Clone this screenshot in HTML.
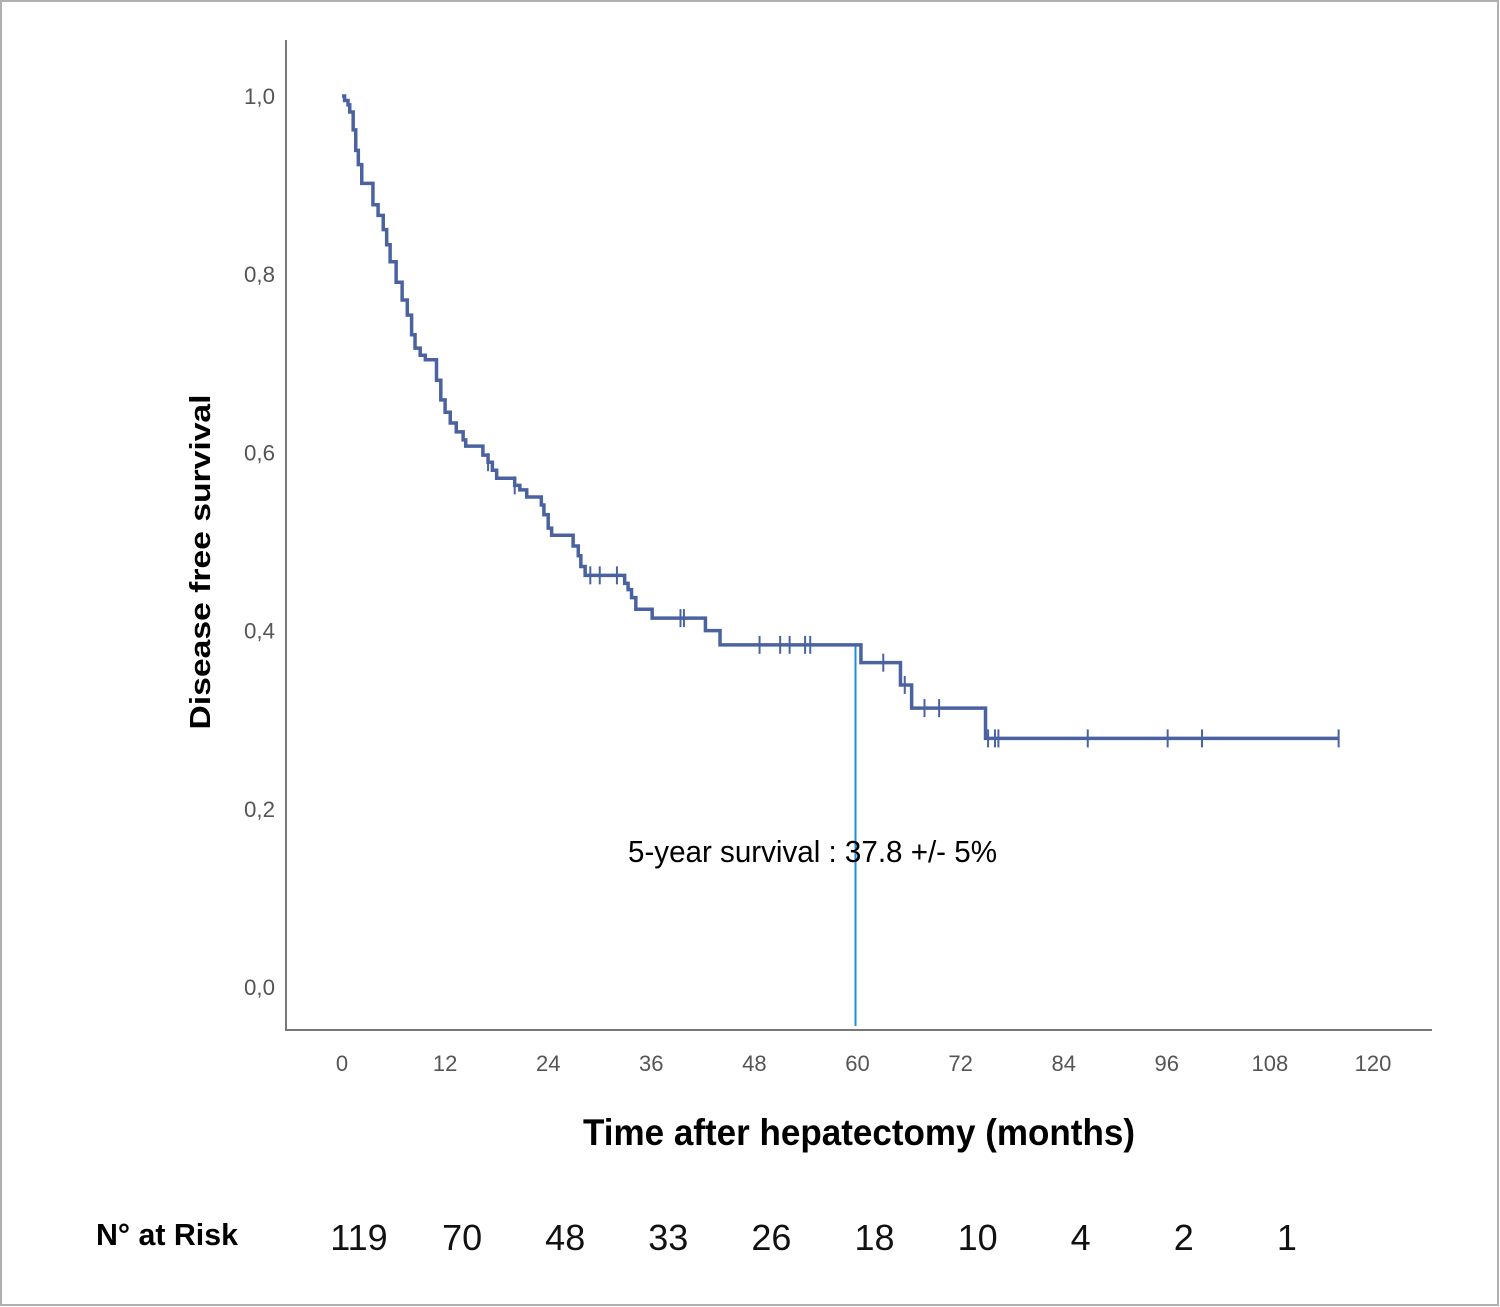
<!DOCTYPE html>
<html><head><meta charset="utf-8"><style>
html,body{margin:0;padding:0;background:#fff}
svg{display:block}
text{font-family:"Liberation Sans",sans-serif}
</style></head><body>
<svg id="chart" width="1500" height="1307" viewBox="0 0 1500 1307" xmlns="http://www.w3.org/2000/svg">
<rect x="1" y="1" width="1497" height="1304" fill="#fff" stroke="#b0b0b0" stroke-width="2"/>
<line x1="286" y1="40" x2="286" y2="1031" stroke="#777" stroke-width="2"/>
<line x1="285" y1="1030" x2="1432" y2="1030" stroke="#777" stroke-width="2"/>
<g id="yticks"></g><g id="xticks"></g>
<text transform="translate(210,562) rotate(-90)" text-anchor="middle" font-size="29" font-weight="bold" textLength="335" lengthAdjust="spacingAndGlyphs">Disease free survival</text>
<text x="583" y="1145" font-size="37" font-weight="bold" textLength="552" lengthAdjust="spacingAndGlyphs">Time after hepatectomy (months)</text>
<line id="vline" stroke="#1e8fe0" stroke-width="2"/>
<path id="curve" fill="none" stroke="#4a63a0" stroke-width="3.5" stroke-linejoin="miter"/>
<g id="censors"></g>
<text x="628" y="862" font-size="31" textLength="369" lengthAdjust="spacingAndGlyphs">5-year survival : 37.8 +/- 5%</text>
<text x="96" y="1245" font-size="31" font-weight="bold" textLength="142" lengthAdjust="spacingAndGlyphs">N° at Risk</text>
<g id="risk"></g>
</svg>
<script>
const yTicks=[0,0.2,0.4,0.6,0.8,1.0];
const yTickLabels=["0,0","0,2","0,4","0,6","0,8","1,0"];
const xTicks=[0,12,24,36,48,60,72,84,96,108,120];
const stepTimes=[0,0.3,0.7,0.9,1.3,1.6,1.9,2.3,3.6,4.2,4.8,5.2,5.6,6.3,7.0,7.6,8.1,8.5,9.1,9.7,11.0,11.5,12.0,12.6,13.3,14.1,14.4,16.4,17.0,17.5,18.0,20.1,20.7,21.5,23.2,23.5,24.0,24.4,26.9,27.5,27.8,28.3,32.9,33.3,33.7,34.2,36.1,42.3,44.0,60.4,65.0,66.3,74.9];
const stepSurv=[1.0,0.995,0.990,0.982,0.962,0.939,0.923,0.902,0.878,0.866,0.850,0.833,0.814,0.791,0.771,0.754,0.732,0.717,0.709,0.704,0.681,0.659,0.645,0.633,0.623,0.614,0.607,0.597,0.589,0.580,0.571,0.563,0.558,0.550,0.541,0.530,0.515,0.507,0.495,0.484,0.472,0.462,0.453,0.446,0.437,0.424,0.414,0.400,0.384,0.364,0.339,0.313,0.279];
const endTime=116.0;
const censorTimes=[17.0,20.1,28.9,30.0,32.0,39.4,39.8,48.6,51.0,52.1,53.9,54.5,63.0,65.5,67.8,69.5,75.2,76.0,76.4,86.8,96.1,100.1,116.0];
const riskTimes=[0,12,24,36,48,60,72,84,96,108];
const riskCounts=[119,70,48,33,26,18,10,4,2,1];
const fiveYearTime=60, fiveYearSurv=0.384;

const NS="http://www.w3.org/2000/svg";
const X=t=>342+t*(1373-342)/120;
const Y=s=>987-s*(987-96);
function mk(tag,attrs,parent,txt){const e=document.createElementNS(NS,tag);for(const k in attrs)e.setAttribute(k,attrs[k]);if(txt!==undefined)e.textContent=txt;parent.appendChild(e);return e;}
const yg=document.getElementById('yticks');
yTicks.forEach((v,i)=>{const t=mk('text',{x:275,y:Y(v)+8,'text-anchor':'end','font-size':22,fill:'#555',textLength:31,lengthAdjust:'spacingAndGlyphs'},yg,yTickLabels[i]);

});
const xg=document.getElementById('xticks');
xTicks.forEach(v=>{const t=mk('text',{x:X(v),y:1071,'text-anchor':'middle','font-size':22,fill:'#555'},xg,String(v));

});
function survAt(t){let s=stepSurv[0];for(let i=0;i<stepTimes.length;i++){if(stepTimes[i]<=t)s=stepSurv[i];}return s;}
let d=`M${X(stepTimes[0])},${Y(stepSurv[0])}`;
for(let i=1;i<stepTimes.length;i++){d+=` H${X(stepTimes[i])} V${Y(stepSurv[i])}`;}
d+=` H${X(endTime)}`;
document.getElementById('curve').setAttribute('d',d);
const cg=document.getElementById('censors');
censorTimes.forEach(t=>{const y=Y(survAt(t));const l=mk('line',{x1:X(t),x2:X(t),y1:y-9,y2:y+9,stroke:'#4a63a0','stroke-width':2},cg);

});
const vl=document.getElementById('vline');
vl.setAttribute('x1',X(fiveYearTime)-2);vl.setAttribute('x2',X(fiveYearTime)-2);
vl.setAttribute('y1',Y(fiveYearSurv));vl.setAttribute('y2',1026);
const rg=document.getElementById('risk');
riskTimes.forEach((t,i)=>{const tx=mk('text',{x:X(t)+17,y:1250,'text-anchor':'middle','font-size':36,fill:'#111'},rg,String(riskCounts[i]));

});
</script>
</body></html>
